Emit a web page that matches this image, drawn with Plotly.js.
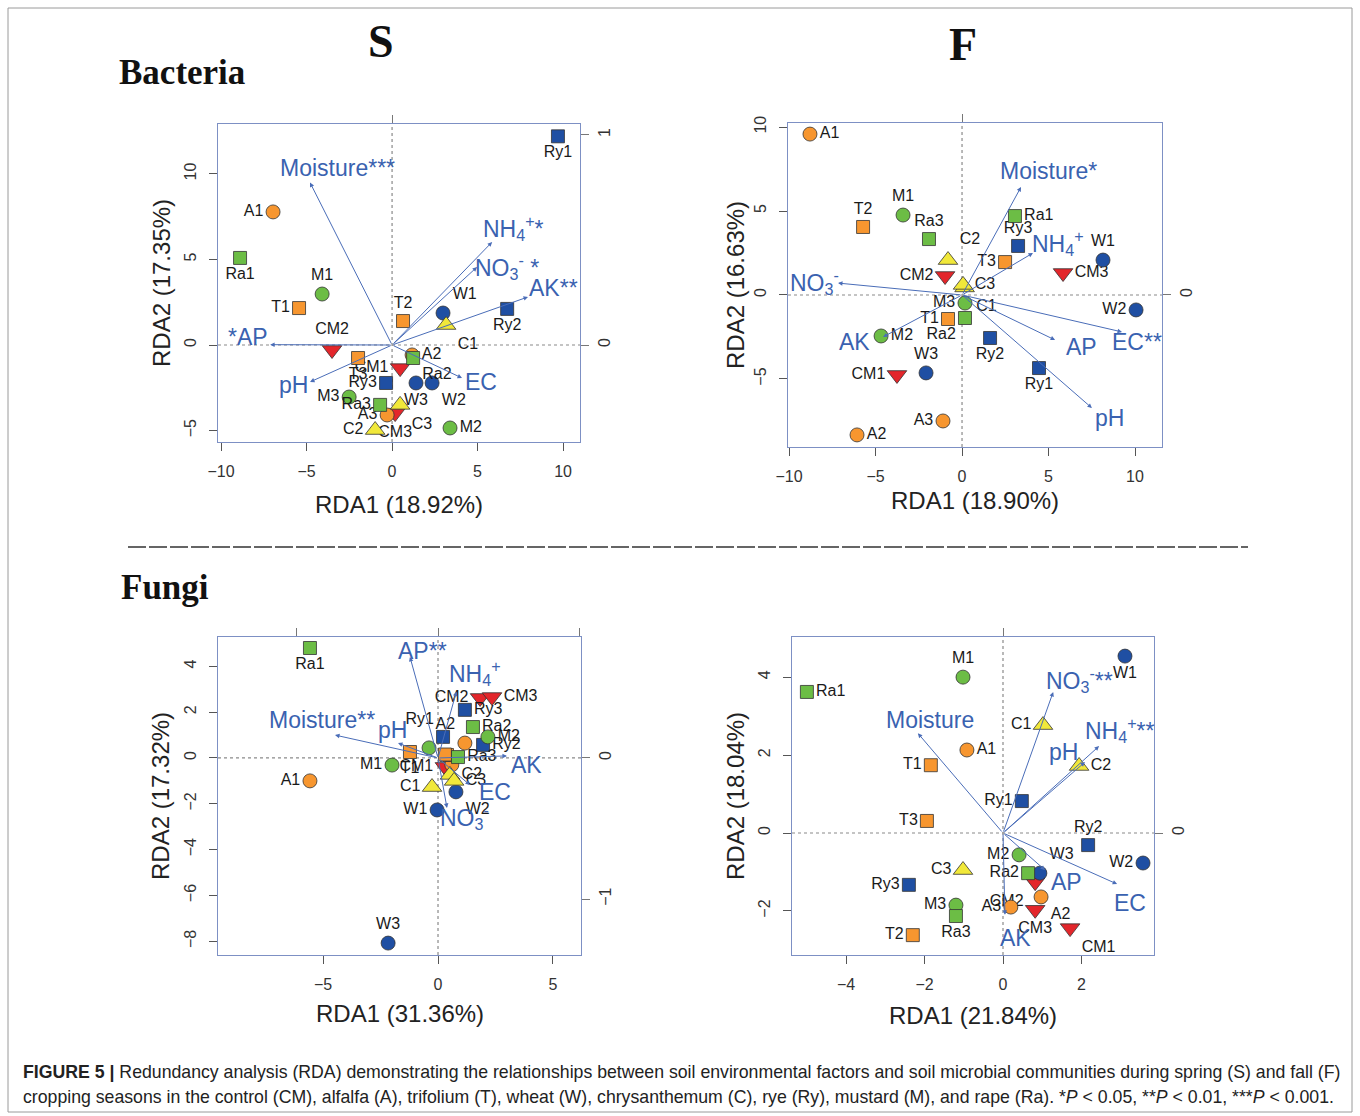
<!DOCTYPE html>
<html><head><meta charset="utf-8">
<script src="https://cdn.plot.ly/plotly-3.0.1.min.js"></script>
<style>html,body{margin:0;padding:0;background:#fff}#chart{width:1360px;height:1116px}</style>
</head><body><div id="chart"></div>
<script>
// ===== DATA =====
// Bacteria, spring (S)
const bsName = ['CM1','CM2','CM3','A1','A2','A3','T1','T2','T3','W1','W2','W3','C1','C2','C3','Ry1','Ry2','Ry3','M1','M2','M3','Ra1','Ra2','Ra3'];
const bsX = [0.47,-3.51,0.18,-6.96,1.17,-0.29,-5.44,0.64,-1.99,2.98,2.34,1.40,3.16,-0.99,0.47,9.70,6.73,-0.35,-4.09,3.39,-2.51,-8.89,1.23,-0.70];
const bsY = [-1.35,-0.29,-3.98,7.78,-0.58,-4.09,2.16,1.40,-0.76,1.87,-2.22,-2.22,1.17,-4.97,-3.50,12.20,2.11,-2.22,2.98,-4.85,-3.04,5.09,-0.76,-3.50];
const bsVar = ['Moisture***','NH<sub>4</sub><sup>+</sup>*','NO<sub>3</sub><sup>-</sup> *','AK**','*AP','pH','EC'];
const bsVarX = [-4.80,5.85,4.97,7.95,-7.13,-4.80,4.09];
const bsVarY = [9.50,6.02,4.56,2.81,0.02,-2.16,-1.93];

// Bacteria, fall (F)
const bfName = ['CM1','CM2','CM3','A1','A2','A3','T1','T2','T3','W1','W2','W3','C1','C2','C3','Ry1','Ry2','Ry3','M1','M2','M3','Ra1','Ra2','Ra3'];
const bfX = [-3.76,-0.98,5.84,-8.79,-6.07,-1.10,-0.81,-5.72,2.49,8.15,10.06,-2.08,0.15,-0.81,0.06,4.45,1.62,3.24,-3.41,-4.68,0.17,3.06,0.17,-1.91];
const bfY = [-4.76,1.13,1.31,9.58,-8.33,-7.50,-1.43,4.05,1.96,2.08,-0.89,-4.64,0.45,2.08,0.60,-4.35,-2.56,2.92,4.76,-2.44,-0.48,4.70,-1.37,3.33];
const bfVar = ['Moisture*','NH<sub>4</sub><sup>+</sup>','NO<sub>3</sub><sup>-</sup>','AK','AP','EC**','pH'];
const bfVarX = [3.41,4.10,-7.17,-4.57,5.38,9.25,7.51];
const bfVarY = [6.43,2.50,0.71,-2.50,-2.68,-2.20,-6.73];

// Fungi, spring (S)
const fsName = ['CM1','CM2','CM3','A1','A2','A3','T1','T2','T3','W1','W2','W3','C1','C2','C3','Ry1','Ry2','Ry3','M1','M2','M3','Ra1','Ra2','Ra3'];
const fsX = [0.30,1.83,2.35,-5.57,1.17,0.60,-1.22,0.39,0.30,-0.04,0.78,-2.17,-0.26,0.52,0.70,0.22,1.96,1.17,-2.00,2.17,-0.39,-5.57,1.52,0.87];
const fsY = [-0.39,2.62,2.66,-1.00,0.65,-0.30,0.26,0.13,0.15,-2.27,-1.48,-8.08,-1.27,-0.74,-1.00,0.92,0.57,2.10,-0.31,0.92,0.44,4.80,1.35,0.04];
const fsVar = ['AP**','NH<sub>4</sub><sup>+</sup>','Moisture**','pH','AK','EC','NO<sub>3</sub><sup>-</sup>'];
const fsVarX = [-1.22,0.80,-4.48,-1.74,3.00,1.39,0.39];
const fsVarY = [4.41,2.90,1.00,0.65,0.09,-1.18,-2.18];

// Fungi, fall (F)
const ffName = ['CM1','CM2','CM3','A1','A2','A3','T1','T2','T3','W1','W2','W3','C1','C2','C3','Ry1','Ry2','Ry3','M1','M2','M3','Ra1','Ra2','Ra3'];
const ffX = [1.71,0.82,0.82,-0.92,0.97,0.20,-1.84,-2.30,-1.94,3.11,3.57,0.94,1.02,1.94,-1.02,0.48,2.17,-2.40,-1.02,0.41,-1.20,-5.00,0.64,-1.20];
const ffY = [-2.44,-1.26,-1.97,2.13,-1.64,-1.90,1.74,-2.62,0.31,4.54,-0.77,-1.03,2.77,1.72,-0.95,0.82,-0.31,-1.33,4.00,-0.56,-1.85,3.62,-1.03,-2.13];
const ffVar = ['Moisture','NO<sub>3</sub><sup>-</sup>**','NH<sub>4</sub><sup>+</sup>**','pH','AP','EC','AK'];
const ffVarX = [-2.17,1.28,2.45,2.09,1.07,2.91,0.05];
const ffVarY = [2.56,3.62,2.23,1.82,-0.95,-1.31,-2.10];

// Axis tick values / labels / titles
const bsXTicks = [-10,-5,0,5,10], bsYTicks = [-5,0,5,10];
const bfXTicks = [-10,-5,0,5,10], bfYTicks = [-5,0,5,10];
const fsXTicks = [-5,0,5],        fsYTicks = [-8,-6,-4,-2,0,2,4];
const ffXTicks = [-4,-2,0,2],     ffYTicks = [-2,0,2,4];
const bsRightLabels = ['0','1'], fsRightLabels = ['0','\u22121'];
const xTitles = ['RDA1 (18.92%)','RDA1 (18.90%)','RDA1 (31.36%)','RDA1 (21.84%)'];
const yTitles = ['RDA2 (17.35%)','RDA2 (16.63%)','RDA2 (17.32%)','RDA2 (18.04%)'];
const seasonTitles = ['S','F'];
const kingdomTitles = ['Bacteria','Fungi'];
const captionLine1 = '<b>FIGURE 5 |</b> Redundancy analysis (RDA) demonstrating the relationships between soil environmental factors and soil microbial communities during spring (S) and fall (F)';
const captionLine2 = 'cropping seasons in the control (CM), alfalfa (A), trifolium (T), wheat (W), chrysanthemum (C), rye (Ry), mustard (M), and rape (Ra). *<i>P</i> &lt; 0.05, **<i>P</i> &lt; 0.01, ***<i>P</i> &lt; 0.001.';

// ===== STYLE =====
const W = 1360, H = 1116;
const FONT = 'Liberation Sans, Arial, Helvetica, sans-serif';
const SERIF = 'Liberation Serif, Times New Roman, serif';
const ARROW = '#4a6db8', VARTXT = '#3a62b0';
const groups = {
  CM:{symbol:'triangle-down', color:'#e3262b', size:17},
  A: {symbol:'circle',        color:'#f7962f', size:14},
  T: {symbol:'square',        color:'#f7962f', size:13},
  W: {symbol:'circle',        color:'#1f4fa3', size:14},
  C: {symbol:'triangle-up',   color:'#f1e83a', size:17},
  Ry:{symbol:'square',        color:'#1f4fa3', size:13},
  M: {symbol:'circle',        color:'#6cbd45', size:14},
  Ra:{symbol:'square',        color:'#6cbd45', size:13}
};
function groupOf(n){ return n.match(/^(CM|Ra|Ry|A|T|W|C|M)/)[1]; }

const bsPos = {CM1:'middle left',CM2:'top center',CM3:'bottom center',A1:'middle left',A2:'middle right',A3:'middle left',
  T1:'middle left',T2:'top center',T3:'bottom center',W1:'top right',W2:'bottom right',W3:'bottom center',C1:'bottom right',
  C2:'middle left',C3:'bottom right',Ry1:'bottom center',Ry2:'bottom center',Ry3:'middle left',M1:'top center',M2:'middle right',
  M3:'middle left',Ra1:'bottom center',Ra2:'bottom right',Ra3:'middle left'};
const bfPos = {CM1:'middle left',CM2:'middle left',CM3:'middle right',A1:'middle right',A2:'middle right',A3:'middle left',
  T1:'middle left',T2:'top center',T3:'middle left',W1:'top center',W2:'middle left',W3:'top center',C1:'bottom right',
  C2:'top right',C3:'middle right',Ry1:'bottom center',Ry2:'bottom center',Ry3:'top center',M1:'top center',M2:'middle right',
  M3:'middle left',Ra1:'middle right',Ra2:'bottom left',Ra3:'top center'};
const fsPos = {CM1:'middle left',CM2:'middle left',CM3:'middle right',A1:'middle left',A2:'top left',A3:'none',
  T1:'bottom center',T2:'none',T3:'none',W1:'middle left',W2:'bottom right',W3:'top center',C1:'middle left',
  C2:'middle right',C3:'middle right',Ry1:'top left',Ry2:'middle right',Ry3:'middle right',M1:'middle left',M2:'middle right',
  M3:'none',Ra1:'bottom center',Ra2:'middle right',Ra3:'middle right'};
const ffPos = {CM1:'bottom right',CM2:'bottom left',CM3:'bottom center',A1:'middle right',A2:'bottom right',A3:'middle left',
  T1:'middle left',T2:'middle left',T3:'middle left',W1:'bottom center',W2:'middle left',W3:'top right',C1:'middle left',
  C2:'middle right',C3:'middle left',Ry1:'middle left',Ry2:'top center',Ry3:'middle left',M1:'top center',M2:'middle left',
  M3:'middle left',Ra1:'middle right',Ra2:'middle left',Ra3:'bottom center'};
// variable label offsets from arrow tip in screen px [right, down]
const bsShift = [[27,-15],[21,-14],[30,0],[25,-9],[-22,-8],[-17,3],[19,4]];
const bfShift = [[27,-16],[25,-10],[-23,-1],[-28,5],[26,7],[15,10],[18,10]];
const fsShift = [[13,-6],[19,-19],[-13,-15],[-6,-13],[20,9],[25,7],[18,9]];
const ffShift = [[12,-13],[26,-12],[21,-16],[-21,-10],[22,12],[13,19],[11,23]];

const panels = [
  {name:bsName,x:bsX,y:bsY,vars:bsVar,vx:bsVarX,vy:bsVarY,pos:bsPos,shift:bsShift,
   box:[218,580,124,442], xr:[-10.18,10.99], yr:[-5.67,12.92], xt:bsXTicks, yt:bsYTicks,
   topT:[0], rightT:[0,12.28], rightL:bsRightLabels, xtY:505, ytX:162},
  {name:bfName,x:bfX,y:bfY,vars:bfVar,vx:bfVarX,vy:bfVarY,pos:bfPos,shift:bfShift,
   box:[788,1162,123,447], xr:[-10.06,11.56], yr:[-9.05,10.24], xt:bfXTicks, yt:bfYTicks,
   topT:[0], rightT:[0], rightL:['0'], xtY:500, ytX:735},
  {name:fsName,x:fsX,y:fsY,vars:fsVar,vx:fsVarX,vy:fsVarY,pos:fsPos,shift:fsShift,
   box:[218,581,637,955], xr:[-9.57,6.22], yr:[-8.60,5.28], xt:fsXTicks, yt:fsYTicks,
   topT:[-6.16,0,6.16], rightT:[0,-6.16], rightL:fsRightLabels, xtY:1013, ytX:160},
  {name:ffName,x:ffX,y:ffY,vars:ffVar,vx:ffVarX,vy:ffVarY,pos:ffPos,shift:ffShift,
   box:[792,1154,637,955], xr:[-5.38,3.85], yr:[-3.13,5.03], xt:ffXTicks, yt:ffYTicks,
   topT:[0], rightT:[0], rightL:['0'], xtY:1015, ytX:735}
];

const traces = [], annotations = [], shapes = [];
const layout = {width:W, height:H, margin:{l:0,r:0,t:0,b:0}, paper_bgcolor:'#fff', plot_bgcolor:'#fff',
  showlegend:false, font:{family:FONT}};

const tickfont = {family:FONT, size:16, color:'#333'};
panels.forEach((p,i)=>{
  const k=i+1, sfx = k===1?'':String(k), xa='x'+sfx, ya='y'+sfx;
  const ko = k+4, xo='x'+ko, yo='y'+ko;
  const [l,r,t,b] = p.box;
  layout['xaxis'+sfx] = {domain:[l/W, r/W], range:p.xr, anchor:ya, tickvals:p.xt, ticks:'outside', ticklen:8,
    tickcolor:'#555', tickwidth:1, showgrid:false, zeroline:false, showline:true, mirror:true, linecolor:'#7d90c4',
    linewidth:1.3, tickfont:tickfont, ticklabelstandoff:6, fixedrange:true};
  layout['yaxis'+sfx] = {domain:[1-b/H, 1-t/H], range:p.yr, anchor:xa, tickvals:p.yt, ticks:'outside', ticklen:8,
    tickcolor:'#555', tickwidth:1, showgrid:false, zeroline:false, showline:true, mirror:true, linecolor:'#7d90c4',
    linewidth:1.3, tickfont:tickfont, tickangle:-90, ticklabelstandoff:6, fixedrange:true};
  layout['xaxis'+ko] = {overlaying:xa, side:'top', anchor:ya, range:p.xr, tickvals:p.topT, showticklabels:false,
    ticks:'outside', ticklen:8, tickcolor:'#777', showgrid:false, zeroline:false, showline:false, fixedrange:true};
  layout['yaxis'+ko] = {overlaying:ya, side:'right', anchor:xa, range:p.yr, tickvals:p.rightT, ticktext:p.rightL,
    ticks:'outside', ticklen:8, tickcolor:'#777', tickfont:tickfont, tickangle:-90, ticklabelstandoff:2,
    showgrid:false, zeroline:false, showline:false, fixedrange:true};
  traces.push({type:'scatter', x:[null], y:[null], xaxis:xo, yaxis:yo, hoverinfo:'skip', showlegend:false});

  // dotted zero lines
  shapes.push({type:'line', xref:xa, yref:ya+' domain', x0:0, x1:0, y0:0, y1:1, layer:'below',
    line:{color:'#8a8a8a', width:1.2, dash:'dot'}});
  shapes.push({type:'line', xref:xa+' domain', yref:ya, x0:0, x1:1, y0:0, y1:0, layer:'below',
    line:{color:'#8a8a8a', width:1.2, dash:'dot'}});

  // environmental arrows
  p.vars.forEach((v,j)=>{
    annotations.push({xref:xa, yref:ya, axref:xa, ayref:ya, x:p.vx[j], y:p.vy[j], ax:0, ay:0, text:'',
      showarrow:true, arrowhead:2, arrowsize:0.9, arrowwidth:1, arrowcolor:ARROW, standoff:0, startstandoff:0});
    annotations.push({xref:xa, yref:ya, x:p.vx[j], y:p.vy[j], text:v, showarrow:false,
      xshift:p.shift[j][0], yshift:-p.shift[j][1], font:{family:FONT, size:23, color:VARTXT}});
  });

  // sample points
  Object.keys(groups).forEach(g=>{
    const idx = p.name.map((n,j)=>j).filter(j=>groupOf(p.name[j])===g);
    const st = groups[g];
    traces.push({type:'scatter', mode:'markers+text', xaxis:xa, yaxis:ya,
      x:idx.map(j=>p.x[j]), y:idx.map(j=>p.y[j]),
      text:idx.map(j=>p.pos[p.name[j]]==='none'?'':p.name[j]),
      hovertext:idx.map(j=>p.name[j]), hoverinfo:'text',
      textposition:idx.map(j=>p.pos[p.name[j]]==='none'?'middle center':p.pos[p.name[j]]),
      textfont:{family:FONT, size:16, color:'#1a1a1a'},
      marker:{symbol:st.symbol, color:st.color, size:st.size, line:{color:'#333', width:0.8}},
      cliponaxis:false, showlegend:false});
  });

  // axis titles
  annotations.push({xref:'paper', yref:'paper', x:(l+r)/2/W, y:1-p.xtY/H, text:xTitles[i], showarrow:false,
    xanchor:'center', yanchor:'middle', font:{family:FONT, size:24, color:'#222'}});
  annotations.push({xref:'paper', yref:'paper', x:p.ytX/W, y:1-(t+b)/2/H, text:yTitles[i], showarrow:false,
    textangle:-90, xanchor:'center', yanchor:'middle', font:{family:FONT, size:24, color:'#222'}});
});

// headings
annotations.push({xref:'paper', yref:'paper', x:381/W, y:1-42/H, text:'<b>'+seasonTitles[0]+'</b>', showarrow:false,
  xanchor:'center', yanchor:'middle', font:{family:SERIF, size:46, color:'#111'}});
annotations.push({xref:'paper', yref:'paper', x:963/W, y:1-44/H, text:'<b>'+seasonTitles[1]+'</b>', showarrow:false,
  xanchor:'center', yanchor:'middle', font:{family:SERIF, size:46, color:'#111'}});
annotations.push({xref:'paper', yref:'paper', x:117/W, y:1-73/H, text:'<b>'+kingdomTitles[0]+'</b>', showarrow:false,
  xanchor:'left', yanchor:'middle', font:{family:SERIF, size:35, color:'#111'}});
annotations.push({xref:'paper', yref:'paper', x:119/W, y:1-587/H, text:'<b>'+kingdomTitles[1]+'</b>', showarrow:false,
  xanchor:'left', yanchor:'middle', font:{family:SERIF, size:35, color:'#111'}});
// caption
annotations.push({xref:'paper', yref:'paper', x:21/W, y:1-1072/H, text:captionLine1, showarrow:false,
  xanchor:'left', yanchor:'middle', font:{family:FONT, size:17.7, color:'#222'}});
annotations.push({xref:'paper', yref:'paper', x:21/W, y:1-1097/H, text:captionLine2, showarrow:false,
  xanchor:'left', yanchor:'middle', font:{family:FONT, size:17.7, color:'#222'}});

// separator and frame
shapes.push({type:'line', xref:'paper', yref:'paper', x0:128/W, x1:1248/W, y0:1-547/H, y1:1-547/H,
  line:{color:'#333', width:1.5, dash:'18px,3px'}});
shapes.push({type:'rect', xref:'paper', yref:'paper', x0:8/W, x1:1352/W, y0:1-1112/H, y1:1-8/H,
  line:{color:'#9a9a9a', width:1}});

layout.annotations = annotations;
layout.shapes = shapes;
Plotly.newPlot('chart', traces, layout, {displayModeBar:false, staticPlot:true});
</script></body></html>
